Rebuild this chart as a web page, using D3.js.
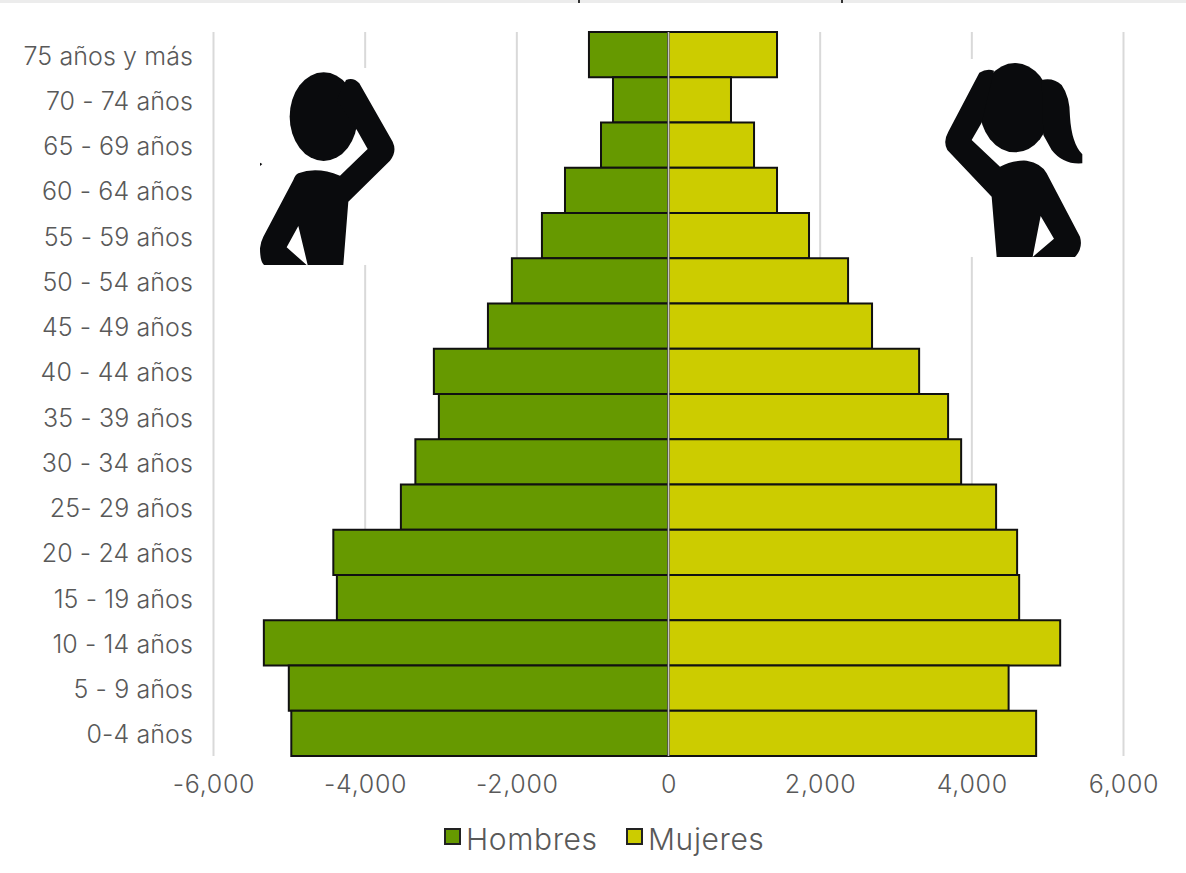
<!DOCTYPE html>
<html>
	<head>
		<meta http-equiv="Content-Type" content="text/html;charset=utf-8"/>
		<title>Piramide</title>
		<script src="https://d3js.org/d3.v7.min.js"></script>
		<style type="text/css">
			body { margin: 0; background: #fff; }
			svg { display: block; }
			text { font-family: "Inter", "Lato", sans-serif; font-weight: 300; fill: #595959; }
			.axis path, .axis line { display: none; }
			.grid line { stroke: #d9d9d9; stroke-width: 2; }
			.bar { stroke: #111; stroke-width: 2; }
			.figure { fill: #0a0b0d; }
		</style>
	</head>
	<body>
		<script type="text/javascript">

			//Age groups, top to bottom
			var ages = ["75 años y más", "70 - 74 años", "65 - 69 años", "60 - 64 años", "55 - 59 años",
				"50 - 54 años", "45 - 49 años", "40 - 44 años", "35 - 39 años", "30 - 34 años",
				"25- 29 años", "20 - 24 años", "15 - 19 años", "10 - 14 años", "5 - 9 años", "0-4 años"];

			var hombres = [1049, 732, 890, 1365, 1669, 2065, 2381, 3094, 3028, 3338, 3529, 4420, 4373, 5336, 5007, 4974];
			var mujeres = [1431, 824, 1128, 1431, 1853, 2368, 2684, 3305, 3687, 3859, 4320, 4597, 4624, 5165, 4485, 4848];

			var xTicks = [-6000, -4000, -2000, 0, 2000, 4000, 6000];
			var seriesNames = ["Hombres", "Mujeres"];
			var seriesColors = ["#669900", "#cccc00"];

			var w = 1186,
				h = 873;

			var xScale = d3.scaleLinear().domain([-6000, 6000]).range([213.5, 1123.5]);
			var yScale = d3.scaleBand().domain(ages).range([32, 756]);

			//The original uses a plain hyphen on negative numbers
			var fmt = d3.format(",");
			var tickFormat = function(d) { return fmt(d).replace("−", "-"); };

			var svg = d3.select("body").append("svg")
						.attr("width", w)
						.attr("height", h);

			//Grey strip left over from the page above the chart
			svg.append("rect").attr("x", 0).attr("y", 0).attr("width", w).attr("height", 3).attr("fill", "#ececec");
			svg.append("rect").attr("x", 578).attr("y", 0).attr("width", 2).attr("height", 3).attr("fill", "#333");
			svg.append("rect").attr("x", 841).attr("y", 0).attr("width", 2).attr("height", 3).attr("fill", "#333");

			//Vertical grid lines
			svg.append("g").attr("class", "grid")
				.selectAll("line")
				.data(xTicks.filter(function(d) { return d !== 0; }))
				.enter()
				.append("line")
				.attr("x1", function(d) { return xScale(d); })
				.attr("x2", function(d) { return xScale(d); })
				.attr("y1", 32)
				.attr("y2", 756);

			//Bars for each side of the pyramid
			svg.selectAll("rect.hombres")
				.data(hombres)
				.enter()
				.append("rect")
				.attr("class", "bar hombres")
				.attr("x", function(d) { return xScale(-d); })
				.attr("y", function(d, i) { return yScale(ages[i]); })
				.attr("width", function(d) { return xScale(0) - xScale(-d); })
				.attr("height", yScale.bandwidth())
				.attr("fill", seriesColors[0]);

			svg.selectAll("rect.mujeres")
				.data(mujeres)
				.enter()
				.append("rect")
				.attr("class", "bar mujeres")
				.attr("x", xScale(0))
				.attr("y", function(d, i) { return yScale(ages[i]); })
				.attr("width", function(d) { return xScale(d) - xScale(0); })
				.attr("height", yScale.bandwidth())
				.attr("fill", seriesColors[1]);

			//Centre line sits on top of the bars
			svg.append("line")
				.attr("x1", xScale(0)).attr("x2", xScale(0))
				.attr("y1", 32).attr("y2", 756)
				.attr("stroke", "#c4c4c4")
				.attr("stroke-width", 1.6);

			//Axes
			var xAxis = svg.append("g").attr("class", "axis")
				.attr("transform", "translate(0,756)")
				.call(d3.axisBottom(xScale).tickValues(xTicks).tickFormat(tickFormat).tickSize(0).tickPadding(19));
			xAxis.selectAll("text").style("font-size", "25px").style("letter-spacing", "0.7px");

			var yAxis = svg.append("g").attr("class", "axis")
				.attr("transform", "translate(213,2)")
				.call(d3.axisLeft(yScale).tickSize(0).tickPadding(20));
			yAxis.selectAll("text").style("font-size", "25px").style("letter-spacing", "0.1px");

			//Legend
			var legendX = [445, 627];
			var legend = svg.selectAll("g.legend")
				.data(seriesNames)
				.enter()
				.append("g")
				.attr("class", "legend")
				.attr("transform", function(d, i) { return "translate(" + legendX[i] + ",829)"; });
			legend.append("rect")
				.attr("width", 15)
				.attr("height", 15)
				.attr("fill", function(d, i) { return seriesColors[i]; })
				.attr("stroke", "#222")
				.attr("stroke-width", 2);
			legend.append("text")
				.attr("x", 21)
				.attr("y", 10)
				.attr("dy", "0.36em")
				.style("font-size", "30px")
				.style("letter-spacing", "0.6px")
				.text(function(d) { return d; });

			//Pictograms, paths are in 3x units of their own box
			var man = svg.append("g").attr("transform", "translate(240,0) scale(0.3333)");
			man.append("rect").attr("x", 60).attr("y", 204).attr("width", 405).attr("height", 591).attr("fill", "#fff");
			man.append("ellipse").attr("class", "figure").attr("cx", 251).attr("cy", 350).attr("rx", 102).attr("ry", 133);
			man.append("path").attr("class", "figure")
				.attr("d", "M175 520 Q230 498 300 527 L383 447 L352 392 L290 300 L318 240 Q340 230 358 250 L458 425 Q472 455 450 482 L325 605 L310 795 L203 795 L175 678 L140 742 L200 795 L72 795 Q60 785 60 745 Q62 725 70 710 L160 540 Q165 525 175 520Z");
			man.append("path").attr("class", "figure").attr("d", "M60 488 L67 492 L60 498Z");

			var woman = svg.append("g").attr("transform", "translate(920,0) scale(0.3333)");
			woman.append("rect").attr("x", 75).attr("y", 177).attr("width", 412).attr("height", 594).attr("fill", "#fff");
			woman.append("ellipse").attr("class", "figure").attr("cx", 285).attr("cy", 323).attr("rx", 106).attr("ry", 134);
			woman.append("path").attr("class", "figure")
				.attr("d", "M222 212 Q200 205 178 218 L85 395 Q68 425 82 450 L215 590 L230 771 L338 771 L362 648 L402 716 L338 771 L465 771 Q490 745 480 710 L380 520 Q365 490 320 482 Q275 480 240 500 L155 420 L185 368Z");
			woman.append("path").attr("class", "figure")
				.attr("d", "M365 240 Q400 232 425 255 Q450 290 450 350 Q455 430 487 463 L487 490 Q430 495 395 450 L370 405Z");

		</script>
	</body>
</html>
